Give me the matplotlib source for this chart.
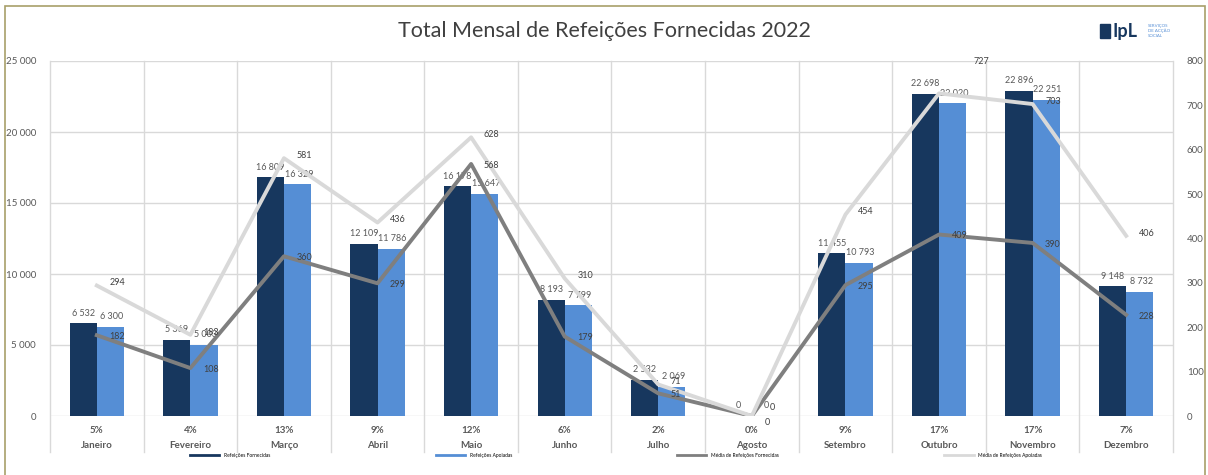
import matplotlib
matplotlib.use("Agg")
import matplotlib.pyplot as plt
from matplotlib.lines import Line2D
from matplotlib.patches import Rectangle
import numpy as np

plt.rcParams['font.family'] = ['Lato', 'DejaVu Sans']

# data
meses = ["Janeiro", "Fevereiro", "Março", "Abril", "Maio", "Junho",
         "Julho", "Agosto", "Setembro", "Outubro", "Novembro", "Dezembro"]
percent = ["5%", "4%", "13%", "9%", "12%", "6%", "2%", "0%", "9%", "17%", "17%", "7%"]
fornecidas = [6532, 5369, 16809, 12109, 16178, 8193, 2532, 0, 11455, 22698, 22896, 9148]
apoiadas = [6300, 5003, 16329, 11786, 15647, 7799, 2069, 0, 10793, 22020, 22251, 8732]
media_fornecidas = [182, 108, 360, 299, 568, 179, 51, 0, 295, 409, 390, 228]
media_apoiadas = [294, 183, 581, 436, 628, 310, 71, 0, 454, 727, 703, 406]

DARK = "#17375e"
LIGHT = "#558ed5"
GREY_D = "#7f7f7f"
GREY_L = "#d9d9d9"
TXT = "#595959"


def fmt(v):
    return f"{v:,}".replace(",", " ")


def main():
    W, H = 1208, 475
    fig = plt.figure(figsize=(W / 100, H / 100), dpi=100)
    ax = fig.add_axes([50 / W, 1 - 416 / H, (1173 - 50) / W, (416 - 61) / H])
    ax2 = ax.twinx()

    x = np.arange(len(meses))
    bw = 0.29
    ax.bar(x - bw / 2, fornecidas, bw, color=DARK, zorder=2)
    ax.bar(x + bw / 2, apoiadas, bw, color=LIGHT, zorder=2)

    for xi, v in zip(x - bw / 2, fornecidas):
        ax.annotate(fmt(v), (xi, v), xytext=(0, 4), textcoords="offset points",
                    ha="center", va="bottom", fontsize=6.5, color=TXT)
    for xi, v in zip(x + bw / 2, apoiadas):
        ax.annotate(fmt(v), (xi, v), xytext=(1, 4), textcoords="offset points",
                    ha="center", va="bottom", fontsize=6.5, color=TXT)

    ax.set_ylim(0, 25000)
    ax.set_yticks(np.arange(0, 25001, 5000))
    ax.set_yticklabels([fmt(v) for v in range(0, 25001, 5000)])
    ax.set_xlim(-0.5, len(meses) - 0.5)
    ax.set_xticks([])
    ax.grid(axis="y", color=GREY_L, lw=1, zorder=0)
    ax.set_axisbelow(True)
    for s in ax.spines.values():
        s.set_visible(False)
    for s in ax2.spines.values():
        s.set_visible(False)
    ax.tick_params(axis="y", length=0, labelsize=7, labelcolor=TXT, pad=10)

    # category separators (run down through the label rows)
    for b in np.arange(-0.5, len(meses), 1.0):
        ax.plot([b, b], [1, -0.101], transform=ax.get_xaxis_transform(),
                color=GREY_L, lw=1, clip_on=False, zorder=0)

    for xi, p, m in zip(x, percent, meses):
        ax.text(xi, -0.04, p, transform=ax.get_xaxis_transform(), ha="center",
                va="center", fontsize=7, color=TXT, fontweight="bold")
        ax.text(xi, -0.083, m, transform=ax.get_xaxis_transform(), ha="center",
                va="center", fontsize=7, color=TXT, fontweight="bold")

    ax2.plot(x, media_fornecidas, color=GREY_D, lw=2.8)
    ax2.plot(x, media_apoiadas, color=GREY_L, lw=2.8)
    for xi, v in zip(x, media_fornecidas):
        off = (9, -1) if v else (9, -5)
        ax2.annotate(str(v), (xi, v), xytext=off, textcoords="offset points",
                     ha="left", va="center", fontsize=6.5, color="#404040")
    for xi, v in zip(x, media_apoiadas):
        off = (9, 2)
        if v == max(media_apoiadas):
            off = (25, 23)  # the peak label sits above the line in the reference
        elif v == 0:
            off = (13, 6)
        ax2.annotate(str(v), (xi, v), xytext=off, textcoords="offset points",
                     ha="left", va="center", fontsize=6.5, color="#404040")
    ax2.set_ylim(0, 800)
    ax2.set_yticks(np.arange(0, 801, 100))
    ax2.tick_params(axis="y", length=0, labelsize=7, labelcolor=TXT, pad=10)

    fig.text(0.5, 1 - 31 / H, "Total Mensal de Refeições Fornecidas 2022",
             ha="center", va="center", fontsize=15.5, color="#404040")

    handles = [Line2D([], [], color=DARK, lw=2), Line2D([], [], color=LIGHT, lw=2),
               Line2D([], [], color=GREY_D, lw=2), Line2D([], [], color=GREY_L, lw=2)]
    labels = ["Refeições Fornecidas", "Refeições Apoiadas",
              "Média de Refeições Fornecidas", "Média de Refeições Apoiadas"]
    fig.legend(handles, labels, loc="center", bbox_to_anchor=(0.51, 1 - 455 / H),
               ncol=4, frameon=False, fontsize=3.5, handlelength=6,
               columnspacing=34, handletextpad=1)

    # logo in the top right corner
    fig.add_artist(Rectangle((1100 / W, 1 - 38 / H), 10 / W, 14 / H,
                             transform=fig.transFigure, color=DARK))
    fig.text(1112 / W, 1 - 31 / H, "IpL", ha="left", va="center", fontsize=13,
             fontweight="bold", color=DARK)
    fig.text(1148 / W, 1 - 31 / H, "SERVIÇOS\nDE ACÇÃO\nSOCIAL", ha="left",
             va="center", fontsize=3.2, color=LIGHT, linespacing=1.1)

    # olive frame around the chart
    fig.add_artist(Rectangle((5 / W, -0.05), 1200 / W, 1.05 - 6 / H,
                             transform=fig.transFigure, fill=False,
                             edgecolor="#a89f6a", lw=1.2))

    fig.savefig("out.png", dpi=100)


if __name__ == "__main__":
    main()
